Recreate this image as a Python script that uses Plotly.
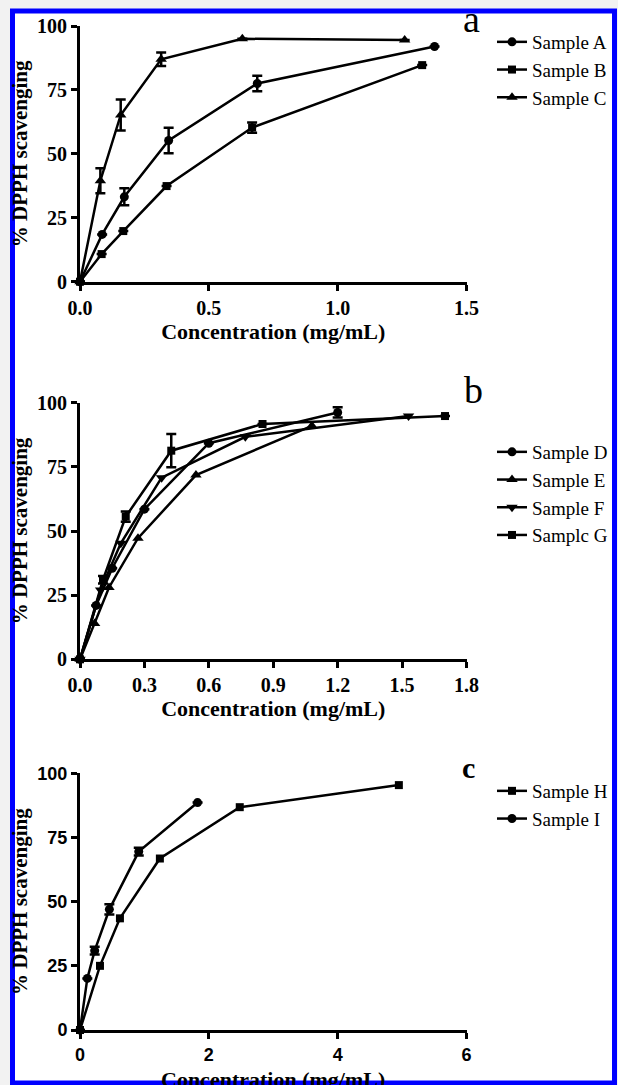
import plotly.graph_objects as go

# ---------------- data ----------------
# Panel a
conc_A = [0, 0.086, 0.172, 0.344, 0.688, 1.376]
scav_A = [0, 18.5, 33.2, 55.2, 77.5, 92.0]
err_A = [None, None, 3.3, 5.0, 3.0, None]
conc_B = [0, 0.084, 0.168, 0.336, 0.668, 1.328]
scav_B = [0, 10.8, 19.8, 37.4, 60.3, 84.7]
err_B = [None, None, None, None, 2.0, None]
conc_C = [0, 0.079, 0.158, 0.315, 0.630, 1.260]
scav_C = [0, 39.5, 65.2, 87.0, 95.0, 94.5]
err_C = [None, 4.9, 6.1, 2.6, None, None]

# Panel b
conc_D = [0, 0.075, 0.15, 0.30, 0.60, 1.20]
scav_D = [0, 21.0, 35.5, 58.5, 84.2, 96.2]
err_D = [None, None, None, None, None, 2.0]
conc_E = [0, 0.068, 0.135, 0.27, 0.54, 1.08]
scav_E = [0, 14.0, 28.0, 47.2, 71.8, 91.0]
conc_F = [0, 0.096, 0.19, 0.38, 0.77, 1.53]
scav_F = [0, 27.0, 45.2, 70.8, 86.7, 94.8]
conc_G = [0, 0.107, 0.213, 0.425, 0.85, 1.70]
scav_G = [0, 31.0, 55.6, 81.3, 91.7, 94.8]
err_G = [None, 1.5, 2.0, 6.5, None, None]

# Panel c
conc_H = [0, 0.31, 0.62, 1.24, 2.48, 4.95]
scav_H = [0, 25.0, 43.5, 66.8, 86.8, 95.4]
conc_I = [0, 0.114, 0.228, 0.456, 0.912, 1.825]
scav_I = [0, 20.1, 30.9, 47.0, 69.5, 88.6]
err_I = [None, None, 1.5, 2.0, 1.5, None]

y_ticks = [0, 25, 50, 75, 100]
x_title = "Concentration (mg/mL)"
y_title = "% DPPH scavenging"

# ---------------- layout helpers ----------------
W, H = 618, 1085


def fx(p):
    return p / W


def fy(p):
    return 1 - p / H


SERIF = "Liberation Serif"
SANS = "Liberation Sans"


def series(x, y, name, symbol, size, xa, ya, legend, err=None):
    tr = go.Scatter(
        x=x, y=y, name=name, mode="lines+markers",
        line=dict(color="black", width=2.5),
        marker=dict(symbol=symbol, size=size, color="black"),
        xaxis=xa, yaxis=ya, legend=legend, cliponaxis=False,
    )
    if err is not None:
        tr.error_y = dict(type="data", array=err, visible=True,
                          color="black", thickness=2.5, width=5)
    return tr


fig = go.Figure()
# panel a
fig.add_trace(series(conc_A, scav_A, "Sample A", "circle", 9, "x", "y", "legend", err_A))
fig.add_trace(series(conc_B, scav_B, "Sample B", "square", 8, "x", "y", "legend", err_B))
fig.add_trace(series(conc_C, scav_C, "Sample C", "triangle-up", 10, "x", "y", "legend", err_C))
# panel b
fig.add_trace(series(conc_D, scav_D, "Sample D", "circle", 9, "x2", "y2", "legend2", err_D))
fig.add_trace(series(conc_E, scav_E, "Sample E", "triangle-up", 10, "x2", "y2", "legend2"))
fig.add_trace(series(conc_F, scav_F, "Sample F", "triangle-down", 10, "x2", "y2", "legend2"))
fig.add_trace(series(conc_G, scav_G, "Samplc G", "square", 8, "x2", "y2", "legend2", err_G))
# panel c
fig.add_trace(series(conc_H, scav_H, "Sample H", "square", 8, "x3", "y3", "legend3"))
fig.add_trace(series(conc_I, scav_I, "Sample I", "circle", 9, "x3", "y3", "legend3", err_I))


def axis_style(tickfamily, ticksize):
    return dict(
        showline=True, linecolor="black", linewidth=3,
        ticks="outside", ticklen=6, tickwidth=3, tickcolor="black",
        showgrid=False, zeroline=False, automargin=False,
        tickfont=dict(family=tickfamily, size=ticksize, color="black", weight="bold"),
    )


title_font = dict(family=SERIF, size=22, color="black", weight="bold")
ytitle_font = dict(family=SERIF, size=21, color="black", weight="bold")

panels = [
    # (suffix, x range, dtick, tickformat, y top px, y bottom px, tick family, tick size, axis title shown)
    ("", [0, 1.5], 0.5, ".1f", 26.0, 281.7, SERIF, 20, True),
    ("2", [0, 1.8], 0.3, ".1f", 402.7, 659.3, SERIF, 20, True),
    ("3", [0, 6], 2, "d", 773.3, 1030.0, SANS, 18, False),
]

for suf, xr, dt, tf, ytop, ybot, fam, fs, show_title in panels:
    xa = axis_style(fam, fs)
    xa.update(domain=[fx(80), fx(466.5)], range=xr, dtick=dt, tick0=0,
              tickformat=tf, anchor="y" + suf)
    if show_title:
        xa["title"] = dict(text=x_title, font=title_font, standoff=4)
    ya = axis_style(fam, fs)
    ya.update(domain=[fy(ybot), fy(ytop)], range=[0, 100], tickvals=y_ticks,
              anchor="x" + suf,
              title=dict(text=y_title, font=ytitle_font, standoff=4))
    fig.layout["xaxis" + suf] = xa
    fig.layout["yaxis" + suf] = ya

legend_font = dict(family=SERIF, size=19, color="black")


def legend_box(top_px):
    return dict(x=fx(492), y=fy(top_px), xanchor="left", yanchor="top",
                font=legend_font, bgcolor="rgba(0,0,0,0)", borderwidth=0,
                itemwidth=30, tracegroupgap=0, itemclick=False)


fig.update_layout(
    width=W, height=H,
    margin=dict(l=0, r=0, t=0, b=0),
    paper_bgcolor="#f2f2f2",
    plot_bgcolor="white",
    showlegend=True,
    legend=legend_box(23),
    legend2=legend_box(433),
    legend3=legend_box(772),
    shapes=[dict(type="rect", xref="paper", yref="paper",
                 x0=fx(12.5), x1=fx(614.5), y0=fy(1083), y1=fy(11),
                 line=dict(color="#0000FF", width=5), fillcolor="white",
                 layer="below")],
    annotations=[
        dict(text="a", x=fx(471.5), y=fy(19), xref="paper", yref="paper",
             showarrow=False, xanchor="center", yanchor="middle",
             font=dict(family=SERIF, size=38, color="black")),
        dict(text="b", x=fx(473), y=fy(390), xref="paper", yref="paper",
             showarrow=False, xanchor="center", yanchor="middle",
             font=dict(family=SERIF, size=38, color="black")),
        dict(text="c", x=fx(468.5), y=fy(767), xref="paper", yref="paper",
             showarrow=False, xanchor="center", yanchor="middle",
             font=dict(family=SERIF, size=30, color="black", weight="bold")),
        # x-axis title of panel c (partly hidden by the frame, as in the original)
        dict(text=x_title, x=fx(273), y=fy(1079), xref="paper", yref="paper",
             showarrow=False, xanchor="center", yanchor="middle",
             font=title_font),
    ],
)

fig.write_html("out.html", config={"displayModeBar": False},
               post_script="document.body.style.margin='0px';")
